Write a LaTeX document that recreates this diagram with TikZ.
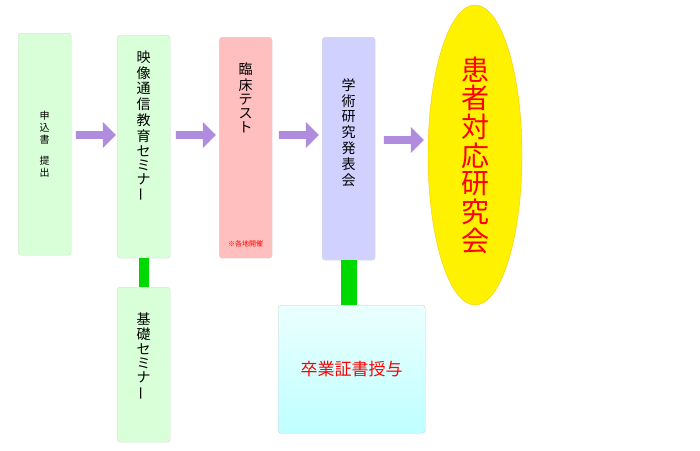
\documentclass[tikz,border=0pt]{standalone}
\usepackage{fontspec}
\setmainfont{Noto Sans CJK JP}
\usepackage{graphicx}
\usetikzlibrary{positioning,shapes.arrows,shapes.geometric}
\tikzset{>=latex}
\newcommand{\chobar}{\rotatebox[origin=c]{90}{ー}}

\begin{document}
\begin{tikzpicture}[x=1pt,y=-1pt,
  stepbox/.style={draw=black!15,rounded corners=3pt,anchor=north west,
    minimum width=53pt,inner sep=0pt,align=center,font=\fontsize{14}{16}\selectfont},
  flow/.style={single arrow,draw=none,fill=blue!40!violet!45,minimum width=26pt,
    single arrow head extend=5pt,inner sep=2pt,minimum height=40pt},
  link/.style={fill=green!85!black,draw=none}]
  \useasboundingbox (0,0) rectangle (700,450);

  \node[stepbox,fill=green!15,minimum height=222pt] (apply) at (18,33) {};
  \node at (apply.center) {\shortstack{申\\込\\書\\[8pt]提\\出}};

  \node[stepbox,fill=green!15,minimum height=223pt] (video) at (117,35) {};
  \node[anchor=north,font=\fontsize{14}{16}\selectfont] at ([yshift=-12pt]video.north)
    {\shortstack{映\\像\\通\\信\\教\\育\\セ\\ミ\\ナ\\\chobar}};

  \node[stepbox,fill=green!15,minimum height=155pt] (basic) at (117,287) {};
  \node[anchor=north,font=\fontsize{14}{16}\selectfont] at ([yshift=-22pt]basic.north)
    {\shortstack{基\\礎\\セ\\ミ\\ナ\\\chobar}};

  \node[stepbox,fill=red!25,minimum height=221pt] (clinic) at (219,37) {};
  \node[anchor=north,font=\fontsize{14}{16}\selectfont] at ([yshift=-22pt]clinic.north)
    {\shortstack{臨\\床\\テ\\ス\\ト}};
  \node[text=red,font=\fontsize{7}{8}\selectfont,above=8pt of clinic.south] (local) {※各地開催};

  \node[stepbox,fill=blue!18,minimum height=223pt] (present) at (322,37) {};
  \node[anchor=north,font=\fontsize{14}{16}\selectfont] at ([yshift=-38pt]present.north)
    {\shortstack{学\\術\\研\\究\\発\\表\\会}};

  \node[stepbox,draw=black!20,top color=cyan!8,bottom color=cyan!25,minimum width=147pt,
    minimum height=128pt,text=red,font=\fontsize{17}{20}\selectfont] (grad) at (278,305) {卒業証書授与};

  \node[ellipse,fill=yellow,draw=yellow!60!orange,minimum width=94pt,minimum height=300pt,
    text=red,font=\fontsize{28}{32}\selectfont,inner sep=0pt] (patient) at (475,155)
    {\shortstack{患\\者\\対\\応\\研\\究\\会}};

  % arrows between steps
  \node[flow] (a1) at (94,135) {};
  \node[flow] (a2) at (194,135) {};
  \node[flow] (a3) at (297,135) {};
  \node[flow] (a4) at (402,140) {};

  % green links
  \fill[link] ([xshift=-5pt]video.south) rectangle ([xshift=5pt]basic.north);
  \fill[link] ([xshift=-8pt]present.south) rectangle ([xshift=8pt]grad.north -| present.south);
\end{tikzpicture}
\end{document}
